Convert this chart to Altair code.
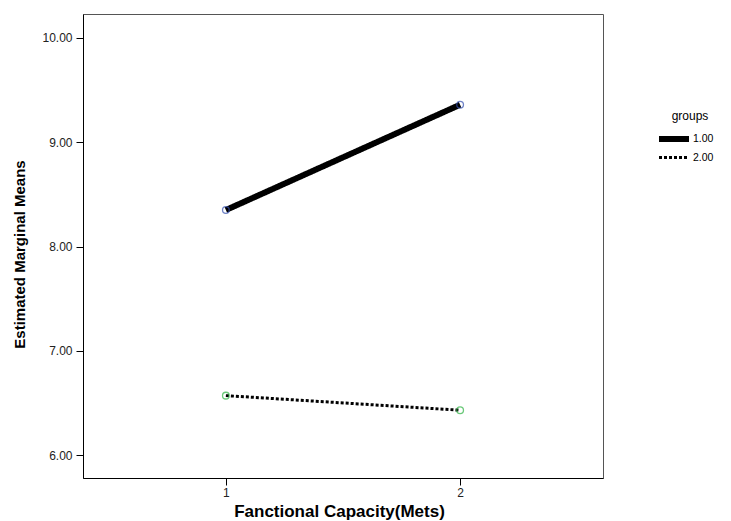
import altair as alt
import pandas as pd

x_levels = [1, 2]
group_labels = ["1.00", "2.00"]
group1_means = [8.35, 9.36]
group2_means = [6.57, 6.43]
y_ticks = [6, 7, 8, 9, 10]
marker_colors = ["#3450b0", "#2db342"]

rows = []
for g, vals in zip(group_labels, [group1_means, group2_means]):
    for xv, yv in zip(x_levels, vals):
        rows.append({"x": xv, "y": yv, "group": g})
df = pd.DataFrame(rows)

xscale = alt.Scale(domain=[0.39, 2.61], nice=False, zero=False)
yscale = alt.Scale(domain=[5.78, 10.23], nice=False, zero=False)

xenc = alt.X("x:Q", scale=xscale,
             axis=alt.Axis(values=x_levels, format="d", title="Fanctional Capacity(Mets)",
                           grid=False, tickSize=7, labelPadding=2,
                           titleX=256, titleY=33, titleBaseline="middle", titleAlign="center",
                           titleFontSize=17, titleFontWeight="bold", labelFontSize=12,
                           domainColor="black", tickColor="black", labelColor="#222",
                           titleColor="black"))
yenc = alt.Y("y:Q", scale=yscale,
             axis=alt.Axis(values=y_ticks, format=".2f", title="Estimated Marginal Means",
                           grid=False, tickSize=7, labelPadding=4,
                           titleX=-64, titleY=240, titleBaseline="middle", titleAlign="center",
                           titleAngle=270,
                           titleFontSize=15, titleFontWeight="bold",
                           labelFontSize=12, domainColor="black", tickColor="black",
                           labelColor="#222", titleColor="black"))

legend = alt.Legend(title="groups", orient="none", legendX=583, legendY=97,
                    symbolType="M-3,0H3", symbolSize=100, symbolStrokeColor="black",
                    labelOffset=11, labelFontSize=10.5, titleFontSize=12, titleFontWeight="normal",
                    titleAnchor="middle", titlePadding=8, rowPadding=-3)

lines = alt.Chart(df).mark_line(color="black").encode(
    x=xenc,
    y=yenc,
    strokeDash=alt.StrokeDash("group:O", scale=alt.Scale(domain=group_labels, range=[[1, 0], [3, 2]]),
                              legend=legend),
    strokeWidth=alt.StrokeWidth("group:O", scale=alt.Scale(type="ordinal", domain=group_labels, range=[6, 3]),
                                legend=legend),
)

point_layers = []
for g, c in zip(group_labels, marker_colors):
    point_layers.append(
        alt.Chart(df).transform_filter(alt.datum.group == g)
        .mark_point(filled=False, shape="circle", size=45, strokeWidth=1.3, color=c)
        .encode(x="x:Q", y="y:Q")
    )

chart = alt.layer(lines, *point_layers).properties(
    width=520, height=464,
    autosize=alt.AutoSizeParams(type="none"),
    padding={"left": 75, "top": 6, "right": 120, "bottom": 45},
    background="white",
).configure(font="Liberation Sans").configure_view(stroke="#555", strokeWidth=1)

chart.save("out.html", embed_options={"renderer": "svg", "actions": False})
